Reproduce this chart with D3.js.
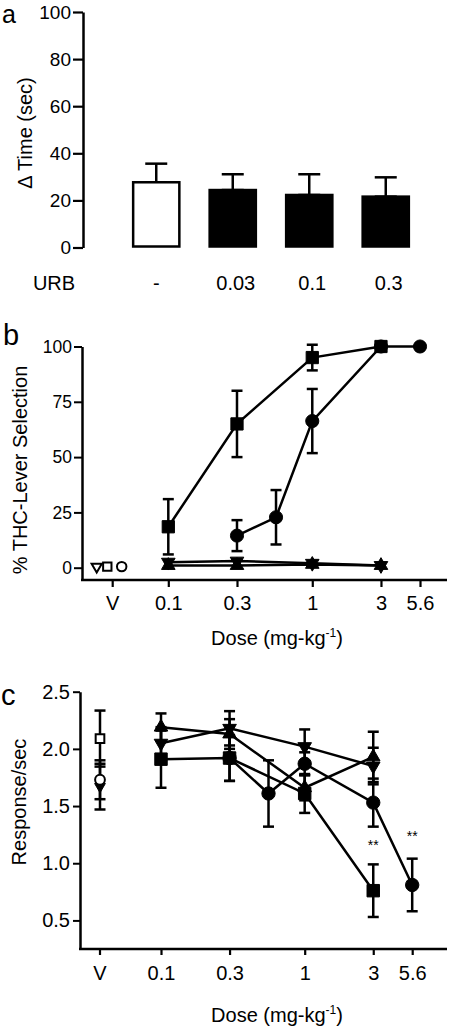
<!DOCTYPE html>
<html><head><meta charset="utf-8">
<script src="https://cdn.jsdelivr.net/npm/d3@7"></script>
<style>body{margin:0;background:#fff}svg{display:block;font-family:"Liberation Sans",Arial,sans-serif}</style>
</head><body><svg id="chart" width="450" height="1030"></svg>
<script>
// ---------- Panel a data ----------
const urbDoses = ["-", "0.03", "0.1", "0.3"];
const deltaTimeMean = [27.7, 24.4, 22.3, 21.6];
const deltaTimeSem = [7.9, 6.7, 8.8, 8.2];
const deltaTimeTicks = [0, 20, 40, 60, 80, 100];

// ---------- Panel b data ----------
const doseTicks = [0.1, 0.3, 1, 3, 5.6];
const doseTickLabels = ["0.1", "0.3", "1", "3", "5.6"];
const selTicks = [0, 25, 50, 75, 100];
const selSquareDose = [0.1, 0.3, 1, 3];
const selSquareMean = [18.5, 65, 95, 100];
const selSquareSem = [12.5, 15, 5.8, 0];
const selCircleDose = [0.3, 0.56, 1, 3, 5.6];
const selCircleMean = [14.5, 22.8, 66.3, 100, 100];
const selCircleSem = [7, 12.3, 14.5, 0, 0];
const selTriDownDose = [0.1, 0.3, 1, 3];
const selTriDownMean = [2.5, 3, 2, 1];
const selTriUpDose = [0.1, 0.3, 1, 3];
const selTriUpMean = [1, 1, 1.5, 1];
const selVehicleSymbol = ["down", "square", "circle"];
const selVehicleMean = [0.5, 0.5, 0.5];

// ---------- Panel c data ----------
const rateTicks = [0.5, 1.0, 1.5, 2.0, 2.5];
const rateSquareDose = [0.1, 0.3, 1, 3];
const rateSquareMean = [1.91, 1.92, 1.61, 0.76];
const rateSquareSem = [0.25, 0.2, 0.17, 0.23];
const rateCircleDose = [0.3, 0.56, 1, 3, 5.6];
const rateCircleMean = [1.92, 1.61, 1.87, 1.53, 0.81];
const rateCircleSem = [0.2, 0.29, 0.1, 0.21, 0.23];
const rateTriUpDose = [0.1, 0.3, 1, 3];
const rateTriUpMean = [2.19, 2.13, 1.66, 1.93];
const rateTriUpSem = [0.12, 0.13, 0.11, 0.22];
const rateTriDownDose = [0.1, 0.3, 1, 3];
const rateTriDownMean = [2.05, 2.18, 2.02, 1.85];
const rateTriDownSem = [0.14, 0.15, 0.15, 0.16];
const rateVehicleSymbol = ["square", "down", "circle"];
const rateVehicleMean = [2.09, 1.67, 1.73];
const rateVehicleSem = [0.245, 0.2, 0.17];
const rateStarDose = [3, 5.6];
const rateStarValue = [1.174, 1.26];
const rateStarText = ["**", "**"];

// ---------- helpers ----------
const FONT = "Liberation Sans, Arial, sans-serif";
const svg = d3.select("#chart");

function styleAxis(g, fs, tickW) {
  g.attr("font-size", fs).attr("font-family", FONT);
  g.select(".domain").attr("stroke", "#000").attr("stroke-width", 2.5);
  g.selectAll(".tick line").attr("stroke", "#000").attr("stroke-width", tickW);
  g.selectAll(".tick text").attr("fill", "#000");
}
const symMap = {square: d3.symbolSquare, circle: d3.symbolCircle, up: d3.symbolTriangle, down: d3.symbolTriangle};
function marker(g, type, x, y, size, open) {
  g.append("path")
    .attr("d", d3.symbol(symMap[type], size)())
    .attr("transform", `translate(${x},${y})` + (type === "down" ? " rotate(180)" : ""))
    .attr("fill", open ? "#fff" : "#000")
    .attr("stroke", "#000")
    .attr("stroke-width", open ? 2 : 1);
}
function errBar(g, x, y0, y1, cap) {
  g.append("line").attr("x1", x).attr("x2", x).attr("y1", y0).attr("y2", y1)
    .attr("stroke", "#000").attr("stroke-width", 2.5);
  [y0, y1].forEach(y => g.append("line").attr("x1", x - cap / 2).attr("x2", x + cap / 2)
    .attr("y1", y).attr("y2", y).attr("stroke", "#000").attr("stroke-width", 2.5));
}
function panelLabel(t, x, y, fs) {
  svg.append("text").attr("x", x).attr("y", y).attr("font-size", fs).attr("font-family", FONT).text(t);
}
function yTitle(t, x, y) {
  svg.append("text").attr("transform", `translate(${x},${y}) rotate(-90)`).attr("text-anchor", "middle")
    .attr("font-size", 20).attr("font-family", FONT).text(t);
}
function doseTitle(y) {
  const t = svg.append("text").attr("x", 277).attr("y", y).attr("text-anchor", "middle")
    .attr("font-size", 20).attr("font-family", FONT);
  t.append("tspan").text("Dose (mg-kg");
  t.append("tspan").attr("font-size", 12).attr("dy", -8).text("-1");
  t.append("tspan").attr("dy", 8).text(")");
}

// ================= Panel a =================
{
  const g = svg.append("g");
  const y = d3.scaleLinear().domain([0, 100]).range([247.5, 12]);
  const x = d3.scaleBand().domain(urbDoses).range([118, 424]).paddingInner(0.37).paddingOuter(0.185);
  const ax = g.append("g").attr("transform", "translate(83,0)")
    .call(d3.axisLeft(y).tickValues(deltaTimeTicks).tickSize(10).tickSizeOuter(0).tickPadding(2));
  styleAxis(ax, 19, 2.2);

  urbDoses.forEach((d, i) => {
    const cx = x(d) + x.bandwidth() / 2;
    errBar(g, cx, y(deltaTimeMean[i] + deltaTimeSem[i]), y(deltaTimeMean[i]), 22);
    g.append("rect").attr("x", x(d) + 1).attr("y", y(deltaTimeMean[i]))
      .attr("width", x.bandwidth() - 2).attr("height", y(0) - y(deltaTimeMean[i]) - 1)
      .attr("fill", i === 0 ? "#fff" : "#000").attr("stroke", "#000").attr("stroke-width", 2.5);
    g.append("text").attr("x", cx + (i === 0 ? 0 : 3)).attr("y", 290).attr("text-anchor", "middle")
      .attr("font-size", 20).attr("font-family", FONT).text(d);
  });
  g.append("text").attr("x", 54).attr("y", 290).attr("text-anchor", "middle")
    .attr("font-size", 20).attr("font-family", FONT).text("URB");
  yTitle("\u0394 Time (sec)", 32, 133);
  panelLabel("a", 2, 23, 25);
}

// ================= Panel b =================
{
  const g = svg.append("g");
  const y = d3.scaleLinear().domain([-5.56, 100]).range([580, 346.5]);
  const x = d3.scaleLog().domain([0.1, 5.6]).range([168.3, 420]);
  const vx = x(0.1) - 55.6;
  const ax = g.append("g").attr("transform", "translate(82,0)")
    .call(d3.axisLeft(y).tickValues(selTicks).tickSize(8).tickSizeOuter(0).tickPadding(2));
  styleAxis(ax, 17.5, 2);
  g.append("line").attr("x1", 81).attr("x2", 447).attr("y1", 580).attr("y2", 580)
    .attr("stroke", "#000").attr("stroke-width", 2.5);
  const bx = g.append("g").attr("transform", "translate(0,580)")
    .call(d3.axisBottom(x).tickValues(doseTicks).tickFormat((d, i) => doseTickLabels[i]).tickSize(7).tickPadding(9));
  styleAxis(bx, 20, 2.2);
  bx.select(".domain").remove();
  g.append("line").attr("x1", vx).attr("x2", vx).attr("y1", 580).attr("y2", 587).attr("stroke", "#000").attr("stroke-width", 2.2);
  g.append("text").attr("x", vx).attr("y", 610).attr("text-anchor", "middle").attr("font-size", 20).attr("font-family", FONT).text("V");

  const line = d3.line().x(d => x(d[0])).y(d => y(d[1]));
  const series = [
    {dose: selSquareDose, mean: selSquareMean, sem: selSquareSem, sym: "square", size: 150},
    {dose: selCircleDose, mean: selCircleMean, sem: selCircleSem, sym: "circle", size: 135},
    {dose: selTriDownDose, mean: selTriDownMean, sem: null, sym: "down", size: 80},
    {dose: selTriUpDose, mean: selTriUpMean, sem: null, sym: "up", size: 80}
  ];
  series.forEach(s => {
    g.append("path").attr("d", line(s.dose.map((d, i) => [d, s.mean[i]])))
      .attr("fill", "none").attr("stroke", "#000").attr("stroke-width", 2.5);
  });
  series.forEach(s => {
    if (!s.sem) return;
    s.dose.forEach((d, i) => {
      if (s.sem[i] > 0) errBar(g, x(d), y(s.mean[i] + s.sem[i]), y(s.mean[i] - s.sem[i]), 11);
    });
  });
  series.forEach(s => s.dose.forEach((d, i) => marker(g, s.sym, x(d), y(s.mean[i]), s.size, false)));
  const vOff = [-16, -5.4, 9];
  const vSize = {down: 45, square: 70, circle: 70};
  selVehicleSymbol.forEach((s, i) => marker(g, s, vx + vOff[i], y(selVehicleMean[i]), vSize[s], true));

  yTitle("% THC-Lever Selection", 27, 470);
  doseTitle(645);
  panelLabel("b", 3, 345, 29);
}

// ================= Panel c =================
{
  const g = svg.append("g");
  const y = d3.scaleLinear().domain([0.25, 2.5]).range([949, 691.7]);
  const x = d3.scaleLog().domain([0.1, 5.6]).range([161, 412.2]);
  const vx = x(0.1) - 61;
  const ax = g.append("g").attr("transform", "translate(80,0)")
    .call(d3.axisLeft(y).tickValues(rateTicks).tickFormat(d3.format(".1f")).tickSize(7).tickPadding(3).tickSizeOuter(0));
  styleAxis(ax, 20, 2);
  g.append("line").attr("x1", 79).attr("x2", 447).attr("y1", 949).attr("y2", 949)
    .attr("stroke", "#000").attr("stroke-width", 2.5);
  const bx = g.append("g").attr("transform", "translate(0,949)")
    .call(d3.axisBottom(x).tickValues(doseTicks).tickFormat((d, i) => doseTickLabels[i]).tickSize(6).tickPadding(11));
  styleAxis(bx, 20, 2.2);
  bx.select(".domain").remove();
  g.append("line").attr("x1", vx).attr("x2", vx).attr("y1", 949).attr("y2", 955).attr("stroke", "#000").attr("stroke-width", 2.2);
  g.append("text").attr("x", vx).attr("y", 980).attr("text-anchor", "middle").attr("font-size", 20).attr("font-family", FONT).text("V");

  const line = d3.line().x(d => x(d[0])).y(d => y(d[1]));
  const series = [
    {dose: rateSquareDose, mean: rateSquareMean, sem: rateSquareSem, sym: "square", size: 155},
    {dose: rateCircleDose, mean: rateCircleMean, sem: rateCircleSem, sym: "circle", size: 140},
    {dose: rateTriUpDose, mean: rateTriUpMean, sem: rateTriUpSem, sym: "up", size: 80},
    {dose: rateTriDownDose, mean: rateTriDownMean, sem: rateTriDownSem, sym: "down", size: 80}
  ];
  series.forEach(s => {
    g.append("path").attr("d", line(s.dose.map((d, i) => [d, s.mean[i]])))
      .attr("fill", "none").attr("stroke", "#000").attr("stroke-width", 2.5);
  });
  series.forEach(s => s.dose.forEach((d, i) =>
    errBar(g, x(d), y(s.mean[i] + s.sem[i]), y(s.mean[i] - s.sem[i]), 11)));
  rateVehicleSymbol.forEach((s, i) =>
    errBar(g, vx, y(rateVehicleMean[i] + rateVehicleSem[i]), y(rateVehicleMean[i] - rateVehicleSem[i]), 11));
  series.forEach(s => s.dose.forEach((d, i) => marker(g, s.sym, x(d), y(s.mean[i]), s.size, false)));
  const vSize = {down: 50, square: 75, circle: 75};
  rateVehicleSymbol.forEach((s, i) => marker(g, s, vx, y(rateVehicleMean[i]), vSize[s], s !== "down"));

  rateStarDose.forEach((d, i) => {
    g.append("text").attr("x", x(d)).attr("y", y(rateStarValue[i]) + 7).attr("text-anchor", "middle")
      .attr("font-size", 14).attr("font-family", FONT).attr("fill", "#000").text(rateStarText[i]);
  });

  yTitle("Response/sec", 26, 802);
  doseTitle(1022);
  panelLabel("c", 1, 705, 29);
}
</script></body></html>
